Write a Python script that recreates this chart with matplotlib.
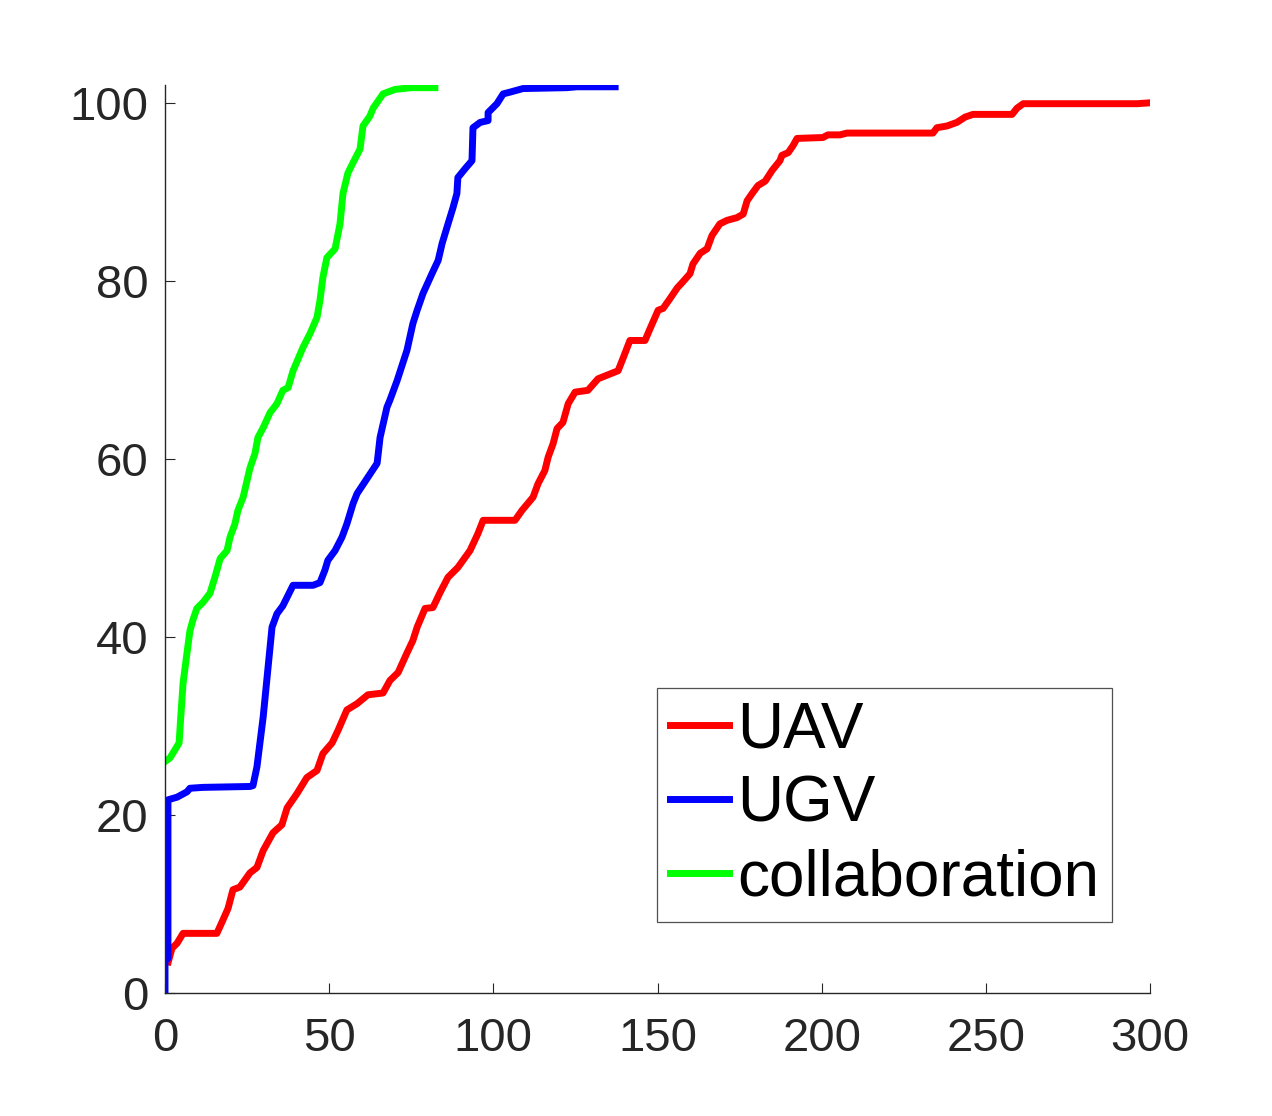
import matplotlib
matplotlib.use("Agg")
import matplotlib.pyplot as plt

# UAV curve (red)
uav_x = [1, 2.1, 3.7, 5.5, 15.8, 17.4, 19.2, 20.7, 22.8, 25.9,
         28.0, 29.9, 32.9, 35.6, 37.2, 40.2, 43.2, 46.3, 48.1, 50.9,
         52.7, 55.4, 58.5, 61.8, 66.4, 68.5, 71.0, 73.7, 75.5, 76.8,
         79.2, 81.6, 83.8, 86.2, 89.2, 92.9, 95.3, 96.9, 106.6, 108.7,
         112.1, 113.6, 115.7, 116.7, 118.2, 119.4, 121.2, 122.8, 124.9, 128.8,
         131.9, 138.0, 139.5, 141.6, 146.2, 147.7, 150.2, 151.7, 153.8, 156.0,
         157.5, 159.9, 160.8, 163.0, 165.1, 166.6, 169.0, 171.2, 174.2, 176.1,
         177.3, 178.8, 180.6, 182.8, 184.9, 187.3, 187.9, 189.8, 191.3, 192.5,
         200.4, 201.9, 205.6, 207.7, 233.9, 235.1, 238.2, 241.2, 243.7, 246.1,
         258.0, 259.5, 261.4, 265.6, 296.1, 300]
uav_y = [3.5, 5.0, 5.6, 6.7, 6.7, 8.0, 9.5, 11.6, 11.9, 13.5,
         14.1, 16.0, 18.0, 18.9, 20.8, 22.4, 24.2, 25.0, 26.9, 28.1,
         29.5, 31.8, 32.5, 33.5, 33.7, 35.1, 36.0, 38.2, 39.6, 41.1,
         43.2, 43.3, 45.0, 46.7, 47.8, 49.7, 51.6, 53.1, 53.1, 54.2,
         55.7, 57.2, 58.7, 60.2, 61.7, 63.4, 64.1, 66.2, 67.5, 67.7,
         69.0, 69.9, 71.3, 73.3, 73.3, 74.6, 76.7, 76.9, 78.0, 79.2,
         79.8, 80.8, 81.9, 83.1, 83.6, 85.1, 86.4, 86.8, 87.1, 87.5,
         89.0, 89.8, 90.7, 91.2, 92.4, 93.5, 94.1, 94.4, 95.2, 96.0,
         96.1, 96.4, 96.4, 96.6, 96.6, 97.2, 97.4, 97.8, 98.4, 98.7,
         98.7, 99.4, 99.9, 99.9, 99.9, 100.0]

# UGV curve (blue)
ugv_x = [0, 0, 0.9, 0.9, 3.7, 6.7, 7.6, 11.6, 25.9, 26.8,
         28.0, 29.9, 31.1, 32.6, 34.1, 35.9, 39.0, 45.1, 47.2, 48.7,
         49.6, 51.8, 53.9, 55.4, 57.3, 58.5, 64.6, 65.5, 67.6, 68.5,
         70.7, 73.7, 75.5, 76.8, 78.6, 81.3, 83.2, 84.4, 86.2, 87.7,
         88.9, 89.2, 91.4, 93.5, 93.8, 96.0, 98.4, 98.4, 101.1, 103.0,
         105.1, 109.0, 122.4, 125.5, 137.1]
ugv_y = [0, 3.7, 3.9, 21.7, 22.0, 22.6, 23.0, 23.1, 23.2, 23.3,
         25.4, 31.0, 35.5, 41.1, 42.6, 43.5, 45.8, 45.8, 46.1, 47.5,
         48.6, 49.7, 51.2, 52.7, 55.0, 56.1, 59.5, 62.4, 65.8, 66.6,
         68.8, 72.2, 75.2, 76.7, 78.6, 80.8, 82.3, 84.2, 86.4, 88.2,
         89.8, 91.6, 92.6, 93.5, 97.2, 97.8, 98.0, 98.9, 99.9, 101.0,
         101.2, 101.6, 101.7, 101.8, 101.8]

# collaboration curve (green)
col_x = [0, 1.5, 3.0, 4.3, 4.8, 5.5, 6.7, 7.6, 8.5, 9.7,
         11.6, 13.7, 15.2, 16.8, 18.9, 19.8, 21.3, 22.2, 23.8, 25.9,
         27.4, 28.3, 29.9, 32.0, 34.1, 35.9, 37.5, 39.0, 42.0, 44.2,
         46.3, 47.2, 48.1, 49.3, 51.8, 53.3, 54.2, 55.7, 57.3, 59.4,
         60.3, 62.4, 63.4, 66.4, 70.0, 75.0, 82.2]
col_y = [26.0, 26.4, 27.3, 28.1, 31.0, 34.8, 38.2, 40.7, 41.9, 43.2,
         43.9, 44.9, 46.7, 48.8, 49.7, 51.2, 52.7, 54.2, 55.7, 59.0,
         60.6, 62.4, 63.5, 65.2, 66.2, 67.7, 68.0, 69.9, 72.5, 74.1,
         75.9, 77.8, 80.4, 82.6, 83.6, 86.4, 89.8, 92.1, 93.3, 94.8,
         97.4, 98.5, 99.4, 101.0, 101.5, 101.7, 101.7]

xticks = [0, 50, 100, 150, 200, 250, 300]
yticks = [0, 20, 40, 60, 80, 100]

plt.rcParams['font.family'] = ['Liberation Sans', 'DejaVu Sans']

fig = plt.figure(figsize=(12.72, 11.16), dpi=100)
ax = fig.add_axes([165 / 1272, 123 / 1116, 985 / 1272, 908 / 1116])

ax.plot(uav_x, uav_y, color=(1, 0, 0), lw=5, label='UAV', solid_joinstyle='round')
ax.plot(ugv_x, ugv_y, color=(0, 0, 1), lw=5, label='UGV', solid_joinstyle='round')
ax.plot(col_x, col_y, color=(0, 1, 0), lw=5, label='collaboration', solid_joinstyle='round')

ax.set_xlim(0, 300)
ax.set_ylim(0, 102)
ax.set_xticks(xticks)
ax.set_yticks(yticks)

ax.spines['top'].set_visible(False)
ax.spines['right'].set_visible(False)
for s in ['left', 'bottom']:
    ax.spines[s].set_color('#262626')
    ax.spines[s].set_linewidth(1.0)
ax.tick_params(direction='in', length=7, width=0.8, colors='#262626',
               labelsize=34)
ax.tick_params(axis='x', pad=17)
ax.tick_params(axis='y', pad=12)

leg = ax.legend(loc='upper left', bbox_to_anchor=(0.4995, 0.336),
                fontsize=46, frameon=True, fancybox=False, borderaxespad=0,
                handlelength=0.93, handletextpad=0.12, labelspacing=0.22,
                borderpad=0.2)
leg.get_frame().set_edgecolor('#262626')
leg.get_frame().set_linewidth(0.9)
for line in leg.get_lines():
    line.set_linewidth(5)

fig.savefig('out.png', dpi=100)
